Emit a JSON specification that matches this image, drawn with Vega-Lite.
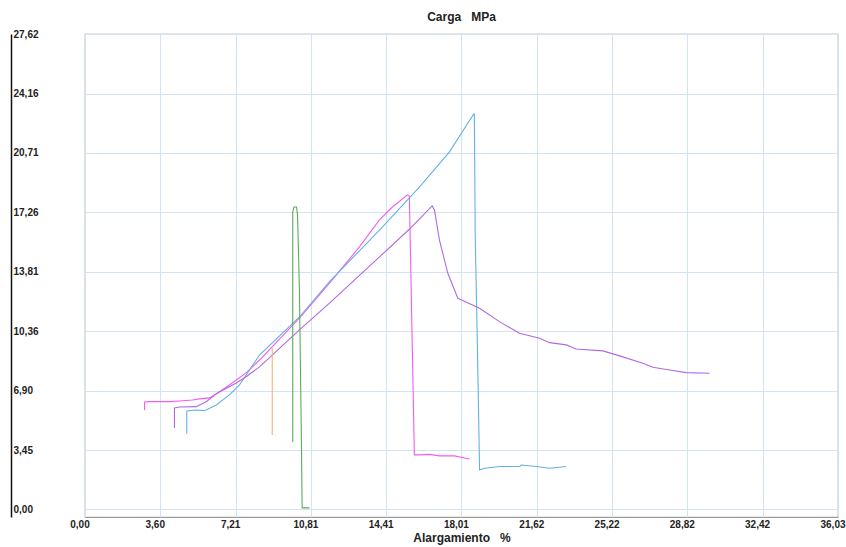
{
  "$schema": "https://vega.github.io/schema/vega-lite/v6.json",
  "autosize": {"type": "none"},
  "width": 753,
  "height": 483,
  "padding": {"left": 85, "top": 34, "right": 8, "bottom": 30},
  "background": "white",
  "title": {
    "text": "Carga\u00a0\u00a0\u00a0MPa",
    "anchor": "middle",
    "frame": "group",
    "font": "Liberation Sans",
    "fontSize": 12,
    "fontWeight": "bold",
    "color": "#222",
    "offset": 5
  },
  "config": {
    "view": {"stroke": "#9a9a9a", "strokeWidth": 1.2},
    "axis": {
      "labelFont": "Liberation Sans",
      "labelFontSize": 10,
      "labelFontWeight": "bold",
      "labelColor": "#222",
      "titleFont": "Liberation Sans",
      "titleFontSize": 12,
      "titleFontWeight": "bold",
      "titleColor": "#222",
      "gridColor": "#d2e3f3",
      "gridWidth": 1,
      "gridOpacity": 1,
      "labelOverlap": false,
      "labelFlush": false,
      "labelBound": false
    }
  },
  "data": {
    "values": [
      {"s": "A", "i": 1, "x": 2.85, "y": 5.78},
      {"s": "A", "i": 2, "x": 2.85, "y": 6.24},
      {"s": "A", "i": 3, "x": 3.09, "y": 6.26},
      {"s": "A", "i": 4, "x": 4.04, "y": 6.26},
      {"s": "A", "i": 5, "x": 4.52, "y": 6.30},
      {"s": "A", "i": 6, "x": 5.14, "y": 6.36},
      {"s": "A", "i": 7, "x": 5.48, "y": 6.42},
      {"s": "A", "i": 8, "x": 5.96, "y": 6.48},
      {"s": "A", "i": 9, "x": 6.44, "y": 6.84},
      {"s": "A", "i": 10, "x": 6.91, "y": 7.23},
      {"s": "A", "i": 11, "x": 7.71, "y": 7.93},
      {"s": "A", "i": 12, "x": 8.35, "y": 8.68},
      {"s": "A", "i": 13, "x": 10.26, "y": 11.12},
      {"s": "A", "i": 14, "x": 11.70, "y": 13.15},
      {"s": "A", "i": 15, "x": 13.13, "y": 15.25},
      {"s": "A", "i": 16, "x": 14.09, "y": 16.82},
      {"s": "A", "i": 17, "x": 14.71, "y": 17.57},
      {"s": "A", "i": 18, "x": 15.43, "y": 18.27},
      {"s": "A", "i": 19, "x": 15.52, "y": 18.21},
      {"s": "A", "i": 20, "x": 15.76, "y": 3.17},
      {"s": "A", "i": 21, "x": 16.01, "y": 3.17},
      {"s": "A", "i": 22, "x": 16.49, "y": 3.20},
      {"s": "A", "i": 23, "x": 16.96, "y": 3.11},
      {"s": "A", "i": 24, "x": 17.68, "y": 3.11},
      {"s": "A", "i": 25, "x": 18.16, "y": 2.99},
      {"s": "A", "i": 26, "x": 18.40, "y": 2.93},

      {"s": "B", "i": 1, "x": 4.87, "y": 4.39},
      {"s": "B", "i": 2, "x": 4.87, "y": 5.72},
      {"s": "B", "i": 3, "x": 5.32, "y": 5.78},
      {"s": "B", "i": 4, "x": 5.72, "y": 5.74},
      {"s": "B", "i": 5, "x": 6.28, "y": 6.07},
      {"s": "B", "i": 6, "x": 6.91, "y": 6.65},
      {"s": "B", "i": 7, "x": 7.39, "y": 7.23},
      {"s": "B", "i": 8, "x": 8.35, "y": 8.97},
      {"s": "B", "i": 9, "x": 10.26, "y": 11.18},
      {"s": "B", "i": 10, "x": 11.70, "y": 13.23},
      {"s": "B", "i": 11, "x": 14.09, "y": 16.23},
      {"s": "B", "i": 12, "x": 16.00, "y": 18.73},
      {"s": "B", "i": 13, "x": 17.44, "y": 20.77},
      {"s": "B", "i": 14, "x": 18.60, "y": 22.97},
      {"s": "B", "i": 15, "x": 18.63, "y": 22.97},
      {"s": "B", "i": 16, "x": 18.67, "y": 16.05},
      {"s": "B", "i": 17, "x": 18.78, "y": 9.26},
      {"s": "B", "i": 18, "x": 18.88, "y": 2.29},
      {"s": "B", "i": 19, "x": 19.12, "y": 2.39},
      {"s": "B", "i": 20, "x": 19.83, "y": 2.49},
      {"s": "B", "i": 21, "x": 20.79, "y": 2.49},
      {"s": "B", "i": 22, "x": 20.87, "y": 2.58},
      {"s": "B", "i": 23, "x": 21.59, "y": 2.49},
      {"s": "B", "i": 24, "x": 22.23, "y": 2.39},
      {"s": "B", "i": 25, "x": 23.03, "y": 2.49},

      {"s": "C", "i": 1, "x": 4.28, "y": 4.73},
      {"s": "C", "i": 2, "x": 4.28, "y": 5.90},
      {"s": "C", "i": 3, "x": 4.52, "y": 5.95},
      {"s": "C", "i": 4, "x": 5.32, "y": 5.97},
      {"s": "C", "i": 5, "x": 5.80, "y": 6.26},
      {"s": "C", "i": 6, "x": 6.34, "y": 6.77},
      {"s": "C", "i": 7, "x": 7.24, "y": 7.35},
      {"s": "C", "i": 8, "x": 7.71, "y": 7.71},
      {"s": "C", "i": 9, "x": 8.35, "y": 8.28},
      {"s": "C", "i": 10, "x": 10.26, "y": 10.43},
      {"s": "C", "i": 11, "x": 11.70, "y": 11.99},
      {"s": "C", "i": 12, "x": 14.09, "y": 14.67},
      {"s": "C", "i": 13, "x": 15.53, "y": 16.29},
      {"s": "C", "i": 14, "x": 16.61, "y": 17.63},
      {"s": "C", "i": 15, "x": 16.72, "y": 17.40},
      {"s": "C", "i": 16, "x": 16.96, "y": 15.65},
      {"s": "C", "i": 17, "x": 17.36, "y": 13.72},
      {"s": "C", "i": 18, "x": 17.84, "y": 12.27},
      {"s": "C", "i": 19, "x": 18.88, "y": 11.69},
      {"s": "C", "i": 20, "x": 19.83, "y": 10.91},
      {"s": "C", "i": 21, "x": 20.79, "y": 10.23},
      {"s": "C", "i": 22, "x": 21.75, "y": 9.94},
      {"s": "C", "i": 23, "x": 22.23, "y": 9.69},
      {"s": "C", "i": 24, "x": 23.03, "y": 9.56},
      {"s": "C", "i": 25, "x": 23.50, "y": 9.32},
      {"s": "C", "i": 26, "x": 24.78, "y": 9.21},
      {"s": "C", "i": 27, "x": 25.58, "y": 8.92},
      {"s": "C", "i": 28, "x": 26.69, "y": 8.49},
      {"s": "C", "i": 29, "x": 27.17, "y": 8.26},
      {"s": "C", "i": 30, "x": 27.97, "y": 8.10},
      {"s": "C", "i": 31, "x": 28.77, "y": 7.95},
      {"s": "C", "i": 32, "x": 29.88, "y": 7.91},

      {"s": "D", "i": 1, "x": 8.96, "y": 4.33},
      {"s": "D", "i": 2, "x": 8.96, "y": 9.38},

      {"s": "E", "i": 1, "x": 9.94, "y": 3.92},
      {"s": "E", "i": 2, "x": 9.94, "y": 17.28},
      {"s": "E", "i": 3, "x": 10.00, "y": 17.57},
      {"s": "E", "i": 4, "x": 10.12, "y": 17.57},
      {"s": "E", "i": 5, "x": 10.17, "y": 17.11},
      {"s": "E", "i": 6, "x": 10.26, "y": 12.75},
      {"s": "E", "i": 7, "x": 10.35, "y": 4.44},
      {"s": "E", "i": 8, "x": 10.39, "y": 0.09},
      {"s": "E", "i": 9, "x": 10.74, "y": 0.09}
    ]
  },
  "mark": {"type": "line", "strokeWidth": 1.1, "clip": true},
  "encoding": {
    "x": {
      "field": "x",
      "type": "quantitative",
      "scale": {"domain": [0, 36.03], "nice": false, "zero": false},
      "axis": {
        "title": "Alargamiento\u00a0\u00a0\u00a0%",
        "values": [0, 3.60, 7.21, 10.81, 14.41, 18.01, 21.62, 25.22, 28.82, 32.42, 36.03],
        "labelExpr": "replace(format(datum.value, '.2f'), '.', ',')",
        "domain": false,
        "ticks": false,
        "tickSize": 0,
        "labelPadding": 2,
        "labelAlign": "center",
        "labelOffset": -5.5,
        "titlePadding": 3
      }
    },
    "y": {
      "field": "y",
      "type": "quantitative",
      "scale": {"domain": [-0.44, 27.62], "nice": false, "zero": false},
      "axis": {
        "title": null,
        "values": [0, 3.45, 6.90, 10.36, 13.81, 17.26, 20.71, 24.16, 27.62],
        "labelExpr": "replace(format(datum.value, '.2f'), '.', ',')",
        "offset": 74,
        "domain": true,
        "domainColor": "#111",
        "domainWidth": 1.5,
        "ticks": false,
        "tickSize": 0,
        "labelAlign": "left",
        "labelPadding": -2
      }
    },
    "color": {
      "field": "s",
      "type": "nominal",
      "scale": {
        "domain": ["A", "B", "C", "D", "E"],
        "range": ["#f45cf0", "#62b2e4", "#b06ae0", "#f0b476", "#5aac5a"]
      },
      "legend": null
    },
    "order": {"field": "i", "type": "quantitative"}
  }
}
